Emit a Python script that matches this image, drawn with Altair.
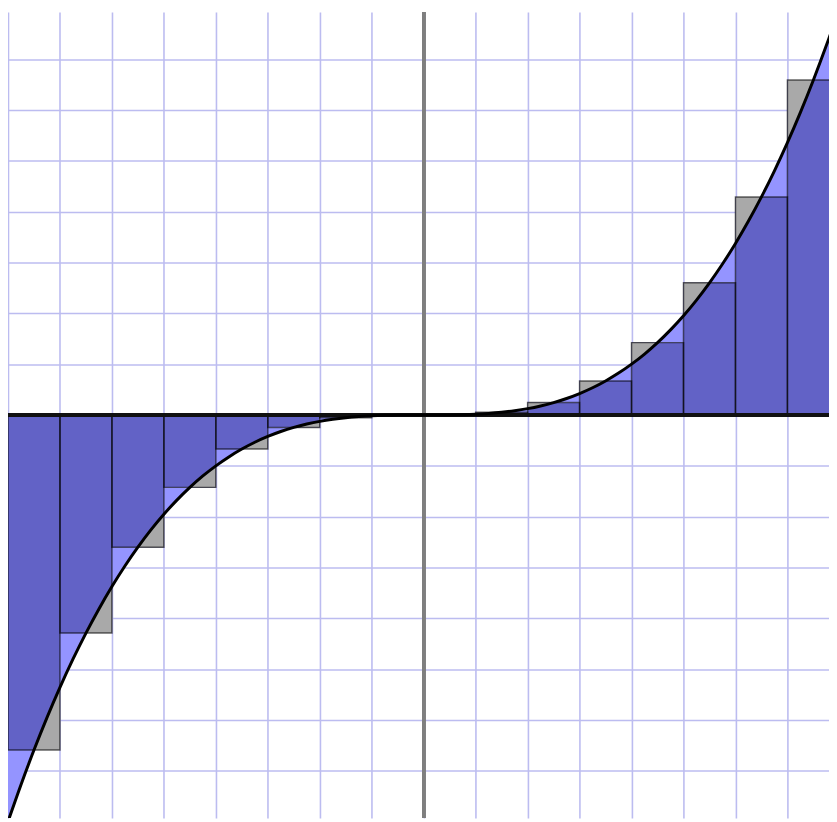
import altair as alt
import pandas as pd

# curve samples (x step 0.25 from -8 to 8)
curve_x = [-8 + 0.25 * i for i in range(65)]
curve_y_neg = [-8.000, -7.273, -6.592, -5.954, -5.359, -4.805, -4.291, -3.815,
               -3.375, -2.970, -2.600, -2.261, -1.953, -1.675, -1.424, -1.199,
               -1.000, -0.824, -0.670, -0.536, -0.422, -0.325, -0.244, -0.178,
               -0.125, -0.084, -0.053, -0.031, -0.016, -0.007, -0.002, -0.000]
curve_y = curve_y_neg + [0.0] + [-v for v in reversed(curve_y_neg)]

# rectangle intervals and heights (midpoint sums)
rect_start = [-8, -7, -6, -5, -4, -3, -2, -1, 0, 1, 2, 3, 4, 5, 6, 7]
rect_height = [-6.592, -4.291, -2.600, -1.424, -0.670, -0.244, -0.053, -0.002,
               0.002, 0.053, 0.244, 0.670, 1.424, 2.600, 4.291, 6.592]

grid_vals = list(range(-8, 9))

curve_df = pd.DataFrame({"x": curve_x, "y": curve_y})
rect_df = pd.DataFrame({"x0": rect_start, "x1": [s + 1 for s in rect_start], "h": rect_height})

rows = []
for k, (a, h) in enumerate(zip(rect_start, rect_height)):
    i0 = int(round((a + 8) / 0.25))
    left = list(range(i0, i0 + 3))
    right = list(range(i0 + 2, i0 + 5))
    lkind = "over" if a >= 0 else "under"
    rkind = "under" if a >= 0 else "over"
    for idxs, kind, side in ((left, lkind, "L"), (right, rkind, "R")):
        for j in idxs:
            rows.append({"px": float(curve_x[j]), "f": float(curve_y[j]), "hh": float(h),
                         "kind": kind, "piece": f"p{k}{side}"})
piece_df = pd.DataFrame(rows)
over_df = piece_df[piece_df["kind"] == "over"].reset_index(drop=True)
under_df = piece_df[piece_df["kind"] == "under"].reset_index(drop=True)

xs = alt.Scale(domain=[-8, 7.8], nice=False, zero=False)
ys = alt.Scale(domain=[-7.93, 7.93], nice=False, zero=False)
ax_x = alt.Axis(values=grid_vals, grid=True, labels=False, ticks=False, domain=False, title=None)
ax_y = alt.Axis(values=grid_vals, grid=True, labels=False, ticks=False, domain=False, title=None)

rects = alt.Chart(rect_df).mark_rect(color="#6262c6", clip=True).encode(
    x=alt.X("x0:Q", scale=xs, axis=ax_x), x2="x1:Q",
    y=alt.Y("h:Q", scale=ys, axis=ax_y), y2=alt.datum(0),
)


def piece_layer(df, col):
    return alt.Chart(df).mark_area(interpolate="monotone", clip=True, color=col,
                                   opacity=1).encode(
        x=alt.X("px:Q", scale=xs),
        y=alt.Y("f:Q", scale=ys, stack=None), y2="hh:Q",
        detail="piece:N",
    )


pieces_over = piece_layer(over_df, "#a9a9a9")
pieces_under = piece_layer(under_df, "#9494ff")

outlines = alt.Chart(rect_df).mark_rect(fillOpacity=0, stroke="#000000", strokeOpacity=0.6,
                                        strokeWidth=1.5, clip=True).encode(
    x=alt.X("x0:Q", scale=xs), x2="x1:Q",
    y=alt.Y("h:Q", scale=ys), y2=alt.datum(0),
)

yaxis_line = alt.Chart(rect_df).mark_rule(color="#7f7f7f", strokeWidth=3).encode(
    x=alt.datum(0, scale=xs)
)
xaxis_line = alt.Chart(rect_df).mark_rule(color="#111111", strokeWidth=2.5).encode(
    y=alt.datum(0, scale=ys)
)

curve = alt.Chart(curve_df).mark_line(color="#000000", strokeWidth=3, interpolate="monotone",
                                      clip=True).encode(
    x=alt.X("x:Q", scale=xs), y=alt.Y("y:Q", scale=ys)
)

chart = alt.layer(rects, pieces_over, pieces_under, outlines, yaxis_line, xaxis_line,
                  curve).properties(
    width=829, height=814, padding=0, autosize=alt.AutoSizeParams(type="none")
).configure_axis(gridColor="#bcbcf0", gridWidth=1.6, gridOpacity=1
).configure_view(strokeWidth=0)

chart.save("out.html", embed_options={"renderer": "svg", "actions": False})
